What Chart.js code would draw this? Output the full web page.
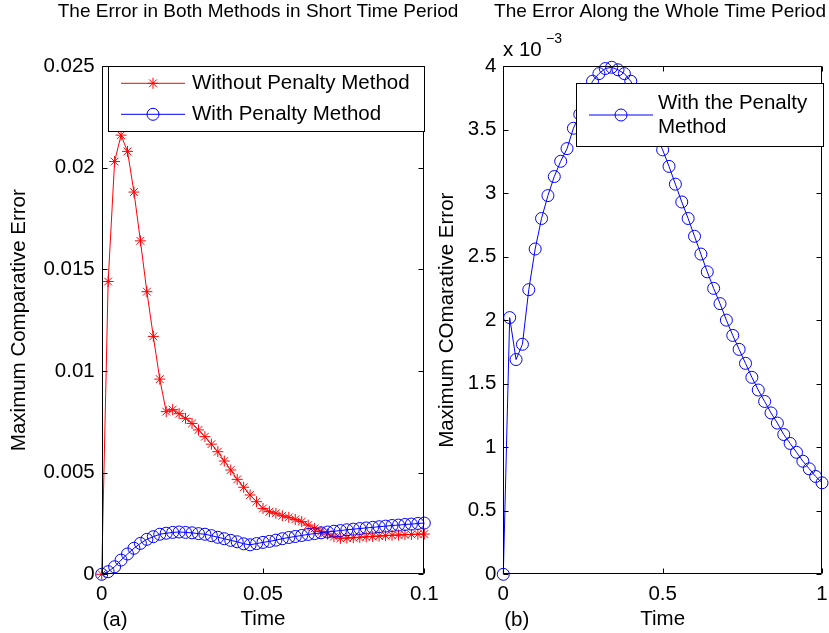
<!DOCTYPE html>
<html>
<head>
<meta charset="utf-8">
<script src="https://cdn.jsdelivr.net/npm/chart.js@4"></script>
<style>
  html, body { margin: 0; padding: 0; background: #fff; }
  #wrap { position: relative; width: 829px; height: 633px; overflow: hidden; }
  canvas { position: absolute; top: 0; }
  #chartShort { left: 0; }
  #chartWhole { left: 432px; }
</style>
</head>
<body>
<div id="wrap">
  <canvas id="chartShort" width="500" height="633"></canvas>
  <canvas id="chartWhole" width="397" height="633"></canvas>
</div>
<script>
// (a) short time period, both methods
const timeShort = [
  0, 0.002, 0.004, 0.006, 0.008, 0.01, 0.012, 0.014, 0.016, 0.018,
  0.02, 0.022, 0.024, 0.026, 0.028, 0.03, 0.032, 0.034, 0.036, 0.038,
  0.04, 0.042, 0.044, 0.046, 0.048, 0.05, 0.052, 0.054, 0.056, 0.058,
  0.06, 0.062, 0.064, 0.066, 0.068, 0.07, 0.072, 0.074, 0.076, 0.078,
  0.08, 0.082, 0.084, 0.086, 0.088, 0.09, 0.092, 0.094, 0.096, 0.098, 0.1,
]
const errWithout = [
  0, 0.0144, 0.0203, 0.0216, 0.0208, 0.0188, 0.0164, 0.0139, 0.0117, 0.0096,
  0.008, 0.0081, 0.0079, 0.00767, 0.00742, 0.0071, 0.00677, 0.0064, 0.00603, 0.00557,
  0.00513, 0.00467, 0.00428, 0.0039, 0.00357, 0.00324, 0.00308, 0.003, 0.00288, 0.0028,
  0.0027, 0.00259, 0.00242, 0.00226, 0.0021, 0.00198, 0.00185, 0.00177, 0.00178, 0.0018,
  0.00182, 0.00184, 0.00186, 0.00188, 0.0019, 0.00192, 0.00193, 0.00195, 0.00196, 0.00197, 0.00198,
]
const errWith = [
  0, 0.00013, 0.00037, 0.0007, 0.001, 0.00128, 0.00152, 0.00172, 0.00185, 0.00197,
  0.00202, 0.00206, 0.00208, 0.00206, 0.00204, 0.002, 0.00197, 0.0019, 0.00182, 0.00175,
  0.00167, 0.0016, 0.0015, 0.00145, 0.00151, 0.00157, 0.00162, 0.00168, 0.00175, 0.00181,
  0.00186, 0.00191, 0.00196, 0.002, 0.00204, 0.00208, 0.00212, 0.00215, 0.00219, 0.00222,
  0.00225, 0.00228, 0.00231, 0.00234, 0.00237, 0.0024, 0.00242, 0.00245, 0.00247, 0.0025, 0.00252,
]
const xTicksShort = [0, 0.05, 0.1]
const yTicksShort = [0, 0.005, 0.01, 0.015, 0.02, 0.025]

// (b) whole time period, values in units of 10^-3
const timeWhole = [
  0, 0.02, 0.04, 0.06, 0.08, 0.1, 0.12, 0.14, 0.16, 0.18,
  0.2, 0.22, 0.24, 0.26, 0.28, 0.3, 0.32, 0.34, 0.36, 0.38,
  0.4, 0.42, 0.44, 0.46, 0.48, 0.5, 0.52, 0.54, 0.56, 0.58,
  0.6, 0.62, 0.64, 0.66, 0.68, 0.7, 0.72, 0.74, 0.76, 0.78,
  0.8, 0.82, 0.84, 0.86, 0.88, 0.9, 0.92, 0.94, 0.96, 0.98, 1,
]
const errWhole = [
  0, 2.02, 1.69, 1.81, 2.24, 2.56, 2.8, 2.98, 3.13, 3.25,
  3.35, 3.51, 3.62, 3.76, 3.88, 3.94, 3.98, 3.99, 3.97, 3.94,
  3.88, 3.79, 3.68, 3.57, 3.45, 3.34, 3.21, 3.07, 2.93, 2.8,
  2.66, 2.52, 2.38, 2.25, 2.13, 2, 1.88, 1.77, 1.66, 1.55,
  1.45, 1.36, 1.27, 1.19, 1.1, 1.03, 0.96, 0.89, 0.83, 0.77, 0.72,
]
const xTicksWhole = [0, 0.5, 1]
const yTicksWhole = [0, 0.5, 1, 1.5, 2, 2.5, 3, 3.5, 4]

const FONT = '"Liberation Sans", Arial, Helvetica, sans-serif'
const RED = 'rgb(255, 0, 0)'
const BLUE = 'rgb(0, 0, 255)'

Chart.defaults.font.family = FONT
Chart.defaults.color = '#000'

const toPoints = (xs, ys) => xs.map((x, i) => ({ x, y: ys[i] }))
const fmt = (v) => parseFloat(v.toFixed(4)).toString()

// matlab-like box, inward ticks, legend and loose texts
const matlabFrame = {
  id: 'matlabFrame',
  afterDatasetsDraw(chart, args, opts) {
    const { ctx, chartArea: a, scales } = chart
    const L = Math.round(a.left) + 0.5
    const R = Math.round(a.right) - 0.5
    const T = Math.round(a.top) + 0.5
    const B = Math.round(a.bottom) - 0.5
    ctx.save()
    ctx.strokeStyle = '#000'
    ctx.lineWidth = 1
    ctx.beginPath()
    ctx.rect(L, T, R - L, B - T)
    scales.x.ticks.forEach((t) => {
      const px = Math.round(scales.x.getPixelForValue(t.value)) + 0.5
      ctx.moveTo(px, B)
      ctx.lineTo(px, B - 5)
      ctx.moveTo(px, T)
      ctx.lineTo(px, T + 5)
    })
    scales.y.ticks.forEach((t) => {
      const py = Math.round(scales.y.getPixelForValue(t.value)) + 0.5
      ctx.moveTo(L, py)
      ctx.lineTo(L + 5, py)
      ctx.moveTo(R, py)
      ctx.lineTo(R - 5, py)
    })
    ctx.stroke()

    const lg = opts.legend
    ctx.fillStyle = '#fff'
    ctx.fillRect(lg.x, lg.y, lg.w, lg.h)
    ctx.strokeRect(lg.x + 0.5, lg.y + 0.5, lg.w, lg.h)
    ctx.font = `20.5px ${FONT}`
    ctx.textBaseline = 'middle'
    ctx.textAlign = 'left'
    lg.rows.forEach((row, i) => {
      const ds = chart.data.datasets[i]
      ctx.strokeStyle = ds.borderColor
      ctx.lineWidth = 1
      ctx.beginPath()
      ctx.moveTo(lg.x + 13, row.y)
      ctx.lineTo(lg.x + 77, row.y)
      ctx.stroke()
      ctx.fillStyle = 'rgba(0,0,0,0)'
      Chart.helpers.drawPoint(
        ctx,
        { pointStyle: ds.pointStyle, radius: ds.pointRadius, borderWidth: 1, rotation: 0 },
        lg.x + 45,
        row.y
      )
      ctx.fillStyle = '#000'
      row.lines.forEach((line, j) => ctx.fillText(line, lg.x + lg.textDx, row.textY[j]))
    })
    ctx.restore()
  },
  afterDraw(chart, args, opts) {
    const { ctx } = chart
    ctx.save()
    ctx.fillStyle = '#000'
    ctx.textBaseline = 'middle'
    ctx.textAlign = 'center'
    ctx.font = `19px ${FONT}`
    ctx.fillText(opts.title, opts.titleX, 12)
    opts.notes.forEach((n) => {
      ctx.font = `${n.size}px ${FONT}`
      ctx.textAlign = n.align
      ctx.fillText(n.text, n.x, n.y)
    })
    ctx.restore()
  },
}

const makeScales = (o) => ({
  x: {
    type: 'linear',
    min: o.xTicks[0],
    max: o.xTicks[o.xTicks.length - 1],
    afterBuildTicks: (s) => { s.ticks = o.xTicks.map((v) => ({ value: v })) },
    afterFit: (s) => { s.height = 58.7; s.paddingLeft = 0; s.paddingRight = 0 },
    grid: { display: false, drawTicks: false },
    border: { display: false },
    ticks: { padding: 8, font: { size: 20.5 }, color: '#000', callback: fmt },
    title: { display: true, text: 'Time', font: { size: 20.5 }, color: '#000', padding: { top: 0, bottom: 1 } },
  },
  y: {
    type: 'linear',
    min: o.yTicks[0],
    max: o.yTicks[o.yTicks.length - 1],
    afterBuildTicks: (s) => { s.ticks = o.yTicks.map((v) => ({ value: v })) },
    afterFit: (s) => { s.width = o.yWidth; s.paddingTop = 0; s.paddingBottom = 0 },
    grid: { display: false, drawTicks: false },
    border: { display: false },
    ticks: { padding: 7, font: { size: 20.5 }, color: '#000', callback: fmt },
    title: { display: true, text: o.yTitle, font: { size: 20.5 }, color: '#000', padding: { top: o.yTitlePad, bottom: 0 } },
  },
})

const baseOptions = {
  responsive: false,
  animation: false,
  events: [],
  plugins: { legend: { display: false }, tooltip: { enabled: false } },
}

new Chart(document.getElementById('chartShort'), {
  type: 'line',
  data: {
    datasets: [
      {
        label: 'Without Penalty Method',
        data: toPoints(timeShort, errWithout),
        borderColor: RED,
        backgroundColor: RED,
        borderWidth: 1,
        pointStyle: 'star',
        pointRadius: 5.5,
        pointBorderWidth: 1,
        tension: 0,
        clip: false,
        order: 2,
      },
      {
        label: 'With Penalty Method',
        data: toPoints(timeShort, errWith),
        borderColor: BLUE,
        backgroundColor: 'rgba(0,0,0,0)',
        borderWidth: 1,
        pointStyle: 'circle',
        pointRadius: 6,
        pointBorderWidth: 1,
        tension: 0,
        clip: false,
        order: 1,
      },
    ],
  },
  options: {
    ...baseOptions,
    layout: { padding: { left: 0, top: 66, right: 75.7, bottom: 0 } },
    scales: makeScales({
      xTicks: xTicksShort,
      yTicks: yTicksShort,
      yWidth: 101.7,
      yTitle: 'Maximum Comparative Error',
      yTitlePad: 7,
    }),
    plugins: {
      ...baseOptions.plugins,
      matlabFrame: {
        title: 'The Error in Both Methods in Short Time Period',
        titleX: 258,
        notes: [{ text: '(a)', x: 115, y: 620, size: 20.5, align: 'center' }],
        legend: {
          x: 108, y: 66, w: 316, h: 65, textDx: 84,
          rows: [
            { y: 83.3, lines: ['Without Penalty Method'], textY: [83.3] },
            { y: 114.3, lines: ['With Penalty Method'], textY: [114.3] },
          ],
        },
      },
    },
  },
  plugins: [matlabFrame],
})

new Chart(document.getElementById('chartWhole'), {
  type: 'line',
  data: {
    datasets: [
      {
        label: 'With the Penalty Method',
        data: toPoints(timeWhole, errWhole),
        borderColor: BLUE,
        backgroundColor: 'rgba(0,0,0,0)',
        borderWidth: 1,
        pointStyle: 'circle',
        pointRadius: 6,
        pointBorderWidth: 1,
        tension: 0,
        clip: false,
      },
    ],
  },
  options: {
    ...baseOptions,
    layout: { padding: { left: 0, top: 66, right: 4.7, bottom: 0 } },
    scales: makeScales({
      xTicks: xTicksWhole,
      yTicks: yTicksWhole,
      yWidth: 71.3,
      yTitle: 'Maximum COmarative Error',
      yTitlePad: 3,
    }),
    plugins: {
      ...baseOptions.plugins,
      matlabFrame: {
        title: 'The Error Along the Whole Time Period',
        titleX: 228,
        notes: [
          { text: '(b)', x: 84.7, y: 620, size: 20.5, align: 'center' },
          { text: 'x 10', x: 71, y: 50, size: 20.5, align: 'left' },
          { text: '\u22123', x: 114, y: 39, size: 14, align: 'left' },
        ],
        legend: {
          x: 144, y: 83, w: 247, h: 63, textDx: 82,
          rows: [{ y: 115, lines: ['With the Penalty', 'Method'], textY: [103.3, 127.3] }],
        },
      },
    },
  },
  plugins: [matlabFrame],
})
</script>
</body>
</html>
